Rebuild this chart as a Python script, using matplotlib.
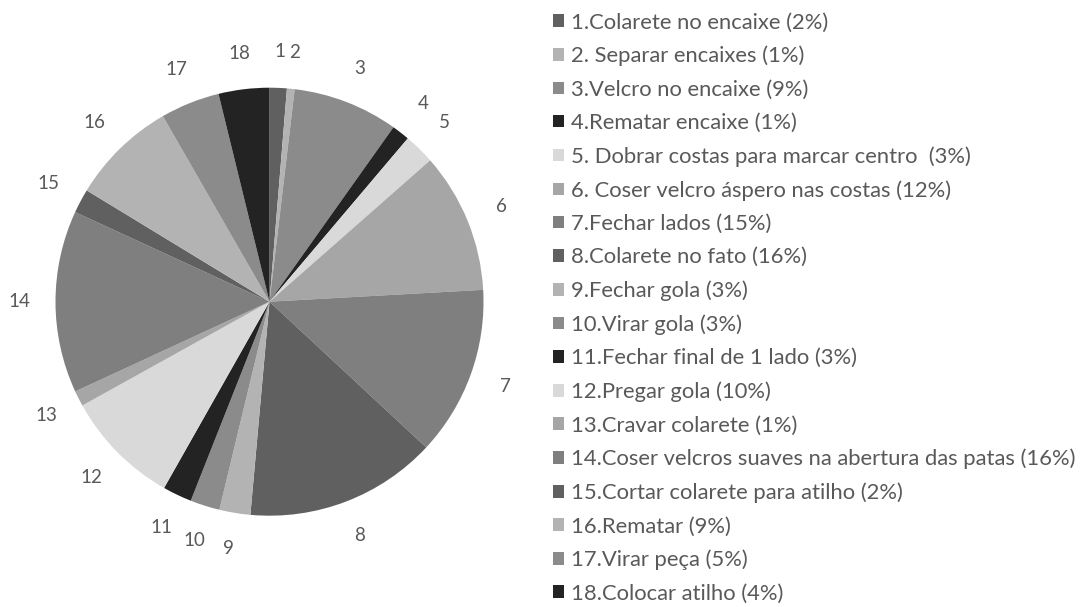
import matplotlib
matplotlib.use("Agg")
import matplotlib.pyplot as plt
import numpy as np

labels = ["1.Colarete no encaixe (2%)", "2. Separar encaixes (1%)", "3.Velcro no encaixe (9%)",
          "4.Rematar encaixe (1%)", "5. Dobrar costas para marcar centro  (3%)",
          "6. Coser velcro áspero nas costas (12%)", "7.Fechar lados (15%)", "8.Colarete no fato (16%)",
          "9.Fechar gola (3%)", "10.Virar gola (3%)", "11.Fechar final de 1 lado (3%)",
          "12.Pregar gola (10%)", "13.Cravar colarete (1%)",
          "14.Coser velcros suaves na abertura das patas (16%)", "15.Cortar colarete para atilho (2%)",
          "16.Rematar (9%)", "17.Virar peça (5%)", "18.Colocar atilho (4%)"]
slice_numbers = [str(i) for i in range(1, 19)]
values = [1.3, 0.58, 7.95, 1.35, 2.33, 10.6, 12.8, 14.5, 2.34, 2.23, 2.2, 8.74, 1.17, 13.76,
          1.83, 7.99, 4.47, 3.83]
palette = ["#606060", "#b3b3b3", "#8b8b8b", "#232323", "#d9d9d9", "#a6a6a6", "#7f7f7f"]
colors = [palette[i % 7] for i in range(len(values))]

plt.rcParams['font.family'] = ['Lato', 'DejaVu Sans']
fig = plt.figure(figsize=(10.83, 6.07), dpi=100)
ax = fig.add_axes([269.5/1083 - 214/1083, 1 - (301.7 + 214)/607, 428/1083, 428/607])
wedges, texts = ax.pie(values, colors=colors, startangle=90, counterclock=False,
                       labels=slice_numbers, labeldistance=1.17,
                       textprops=dict(color="#595959", fontsize=13.5),
                       wedgeprops=dict(linewidth=0))
for t in texts:
    t.set_horizontalalignment('center')
    t.set_verticalalignment('center')
ax.set_aspect('equal')
ax.set_xlim(-1, 1)
ax.set_ylim(-1, 1)

leg = fig.legend(wedges, labels, loc='upper left', bbox_to_anchor=(553/1083, 1 - 12.5/607),
                 frameon=False, fontsize=15.8, labelcolor="#595959",
                 handlelength=0.5, handleheight=0.5, handletextpad=0.3,
                 labelspacing=0.605, borderaxespad=0, borderpad=0)
fig.savefig("out.png", dpi=100, facecolor="white")
